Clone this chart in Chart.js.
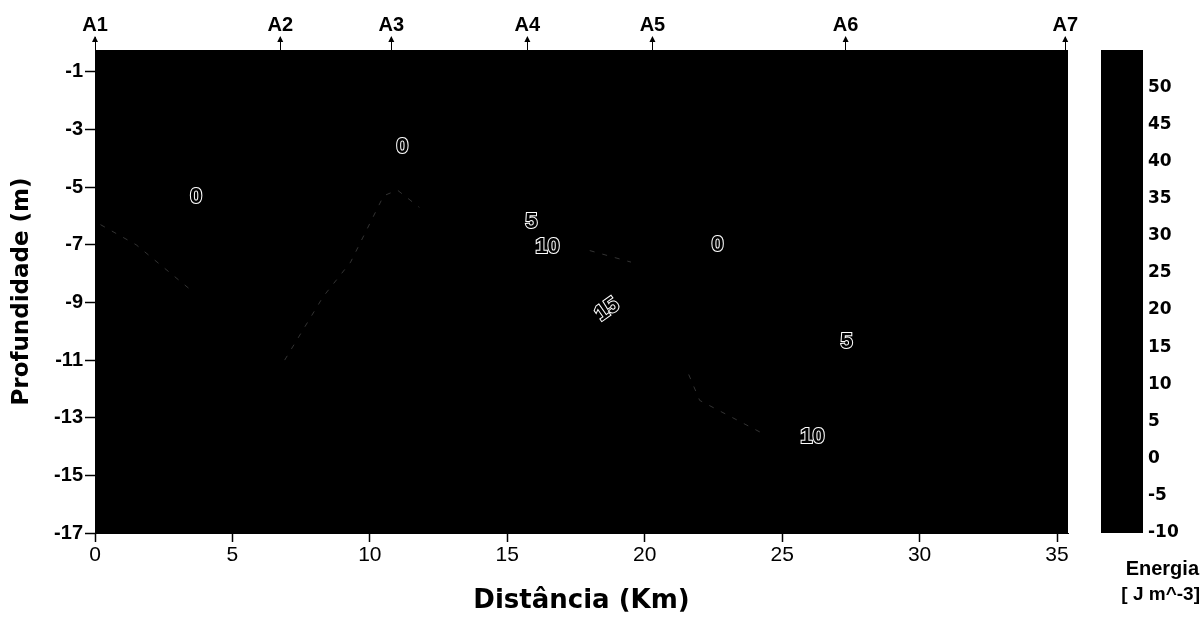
<!DOCTYPE html>
<html>
<head>
<meta charset="utf-8">
<script src="https://cdn.jsdelivr.net/npm/chart.js@4.4.0/dist/chart.umd.min.js"></script>
<style>
html,body{margin:0;padding:0;background:#fff;}
#wrap{width:1202px;height:626px;}
</style>
</head>
<body>
<div id="wrap"><canvas id="cont" width="1202" height="626"></canvas></div>
<script>
// axis ranges and ticks
const xTicks=[0,5,10,15,20,25,30,35];
const yTicks=[-1,-3,-5,-7,-9,-11,-13,-15,-17];
const cbTicks=[-10,-5,0,5,10,15,20,25,30,35,40,45,50];
// well markers along the top
const wellNames=["A1","A2","A3","A4","A5","A6","A7"];
const wellPos=[0,6.74,10.78,15.73,20.28,27.31,35.3];
// contour labels
const lblText=["0","0","5","10","15","0","5","10"];
const lblX=[3.68,11.18,15.88,16.46,18.64,22.65,27.35,26.1];
const lblY=[-5.33,-3.6,-6.2,-7.07,-9.25,-7.0,-10.36,-13.65];
const lblRot=[0,0,0,0,-35,0,0,0];
// faint contour traces
const line1=[{x:0.2,y:-6.3},{x:1.5,y:-7.0},{x:3.4,y:-8.5}];
const line2=[{x:6.9,y:-11.0},{x:8.3,y:-8.8},{x:9.3,y:-7.6},{x:10.5,y:-5.3},{x:11.0,y:-5.1},{x:11.8,y:-5.7}];
const line3=[{x:18.0,y:-7.2},{x:19.5,y:-7.6}];
const line4=[{x:21.6,y:-11.5},{x:22.0,y:-12.4},{x:24.2,y:-13.5}];

const FONT='"Liberation Sans", Arial, sans-serif';
const WIDE='"DejaVu Sans", sans-serif';

function trace(pts){
  return {type:'line',data:pts,showLine:true,pointRadius:0,borderWidth:1,
    borderColor:'rgba(255,255,255,0.2)',borderDash:[5,8],xAxisID:'x',yAxisID:'y'};
}

const extras={
  id:'extras',
  beforeDatasetsDraw(chart){
    const c=chart.ctx,a=chart.chartArea;
    c.save();
    c.fillStyle='#000';
    c.fillRect(a.left,a.top,a.right-a.left,a.bottom-a.top);
    // colour bar
    const cb=chart.scales.cb;
    const t=cb.getPixelForValue(55),b=cb.getPixelForValue(-10);
    c.fillRect(cb.left+33,t,42,b-t);
    c.restore();
  },
  afterDraw(chart){
    const c=chart.ctx,xs=chart.scales.x,ys=chart.scales.y,top=chart.scales.x2;
    c.save();
    // arrowheads on the well markers
    c.fillStyle='#000';
    for(let i=0;i<wellPos.length;i++){
      const px=top.getPixelForValue(wellPos[i]);
      const py=top.bottom-13;
      c.beginPath();
      c.moveTo(px,py-1);c.lineTo(px-3,py+5);c.lineTo(px+3,py+5);c.closePath();c.fill();
    }
    // contour labels
    c.font='bold 22px '+FONT;
    c.textAlign='center';c.textBaseline='middle';
    c.lineWidth=2;c.strokeStyle='#fff';c.fillStyle='#000';
    for(let i=0;i<lblText.length;i++){
      c.save();
      c.translate(xs.getPixelForValue(lblX[i]),ys.getPixelForValue(lblY[i]));
      c.rotate(lblRot[i]*Math.PI/180);
      c.strokeText(lblText[i],0,0);
      c.fillText(lblText[i],0,0);
      c.restore();
    }
    // colour bar caption
    c.fillStyle='#000';
    c.textAlign='right';
    c.font='bold 20px '+FONT;
    c.fillText('Energia',1199,569);
    c.font='bold 19px '+FONT;
    c.fillText('[ J m^-3]',1200,595);
    c.restore();
  }
};

new Chart(document.getElementById('cont'),{
  type:'scatter',
  data:{datasets:[trace(line1),trace(line2),trace(line3),trace(line4),
    {type:'scatter',data:[],xAxisID:'x2',yAxisID:'cb'}]},
  options:{
    responsive:false,animation:false,
    layout:{padding:0},
    plugins:{legend:{display:false},tooltip:{enabled:false}},
    scales:{
      x:{type:'linear',position:'bottom',min:0,max:35.4,
        afterFit(s){s.height=93;s.paddingLeft=0;s.paddingRight=0;},
        afterBuildTicks(s){s.ticks=xTicks.map(v=>({value:v}));},
        grid:{drawOnChartArea:false,tickLength:9,color:'#000',tickWidth:1.5},
        border:{color:'#000',width:1},
        ticks:{color:'#000',padding:1,maxRotation:0,font:{family:FONT,size:21}},
        title:{display:true,text:'Distância (Km)',color:'#000',padding:{bottom:9},
          font:{family:WIDE,size:26,weight:'bold'}}},
      x2:{type:'linear',position:'top',min:0,max:35.4,
        afterFit(s){s.height=50;s.paddingLeft=0;s.paddingRight=0;},
        afterBuildTicks(s){s.ticks=wellPos.map(v=>({value:v}));},
        grid:{drawOnChartArea:false,tickLength:13,color:'#000',tickWidth:1},
        border:{display:false},
        ticks:{color:'#000',padding:0,maxRotation:0,autoSkip:false,
          callback:(v,i)=>wellNames[i],font:{family:FONT,size:20,weight:'bold'}}},
      y:{type:'linear',position:'left',min:-17,max:-0.24,
        afterFit(s){s.width=95;s.paddingTop=0;s.paddingBottom=0;},
        afterBuildTicks(s){s.ticks=yTicks.map(v=>({value:v}));},
        grid:{drawOnChartArea:false,tickLength:10,color:'#000',tickWidth:1.5},
        border:{color:'#000',width:1},
        ticks:{color:'#000',padding:2,font:{family:FONT,size:20,weight:'bold'}},
        title:{display:true,text:'Profundidade (m)',color:'#000',padding:{top:8},
          font:{family:WIDE,size:23,weight:'bold'}}},
      cb:{type:'linear',position:'right',min:-10,max:55,
        afterFit(s){s.width=134;s.paddingTop=0;s.paddingBottom=0;},
        afterBuildTicks(s){s.ticks=cbTicks.map(v=>({value:v}));},
        grid:{display:false},
        border:{display:false},
        ticks:{color:'#000',padding:72,font:{family:WIDE,size:17,weight:'bold'}}}
    }
  },
  plugins:[extras]
});
</script>
</body>
</html>
